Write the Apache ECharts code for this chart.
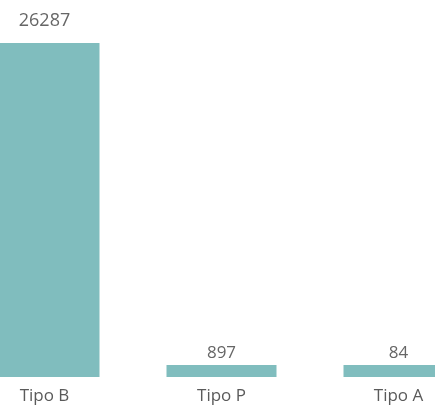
<!DOCTYPE html>
<html>
<head>
<meta charset="utf-8">
<script src="https://cdn.jsdelivr.net/npm/echarts@6/dist/echarts.min.js"></script>
<style>
html,body{margin:0;padding:0;background:#fff;}
#chart{width:435px;height:406px;}
</style>
</head>
<body>
<div id="chart"></div>
<script>
const categories = ["Tipo B", "Tipo P", "Tipo A"];
const values = [26287, 897, 84];

const chart = echarts.init(document.getElementById('chart'), null, {renderer: 'canvas'});
const seriesData = values.map(function (v, i) {
  return i === 0
    ? {value: v, label: {distance: 13, fontSize: 18}}
    : {value: v};
});
chart.setOption({
  animation: false,
  backgroundColor: '#ffffff',
  grid: {left: -44, right: -52, top: 43, bottom: 29, containLabel: false, outerBoundsMode: 'none'},
  xAxis: {
    type: 'category',
    data: categories,
    axisLine: {show: false},
    axisTick: {show: false},
    axisLabel: {color: '#5a5a5a', fontSize: 17, fontFamily: 'Open Sans', margin: 11}
  },
  yAxis: {
    type: 'value',
    min: 0,
    max: 26287,
    show: false,
    splitLine: {show: false}
  },
  series: [{
    type: 'bar',
    data: seriesData,
    barWidth: 110,
    barMinHeight: 12,
    itemStyle: {color: '#80bdbe'},
    label: {show: true, position: 'top', distance: 3, color: '#666666', fontSize: 17, fontFamily: 'Open Sans'}
  }]
});
</script>
</body>
</html>
